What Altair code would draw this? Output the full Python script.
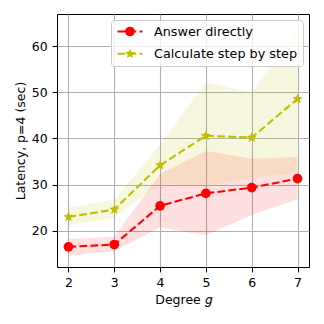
import math
import altair as alt
import pandas as pd

# ---- data ----
degree = [2, 3, 4, 5, 6, 7]
series_names = ["Answer directly", "Calculate step by step"]
series_colors = ["#ff0000", "#bfbf00"]

direct_mean = [16.5, 17.0, 25.4, 28.1, 29.35, 31.3]
direct_low = [14.5, 15.6, 20.7, 19.0, 23.4, 26.8]
direct_high = [18.2, 18.7, 32.3, 37.3, 35.6, 36.0]

step_mean = [23.0, 24.6, 34.2, 40.6, 40.2, 48.6]
step_low = [21.2, 22.8, 30.2, 29.6, 31.5, 32.5]
step_high = [25.1, 26.7, 38.7, 52.2, 49.9, 64.0]

x_ticks = [2, 3, 4, 5, 6, 7]
y_ticks = [20, 30, 40, 50, 60]

rows = []
for name, m, lo, hi in [
    (series_names[0], direct_mean, direct_low, direct_high),
    (series_names[1], step_mean, step_low, step_high),
]:
    for g, a, b, c in zip(degree, m, lo, hi):
        rows.append({"series": name, "degree": g, "mean": a, "low": b, "high": c})
df = pd.DataFrame(rows)


# ---- marker geometry (unit symbol paths) ----
def star_path(r_out, r_in, dx=0.0):
    pts = []
    for k in range(10):
        r = r_out if k % 2 == 0 else r_in
        ang = -math.pi / 2 + k * math.pi / 5
        pts.append((dx + r * math.cos(ang), r * math.sin(ang)))
    return "M" + " L".join(f"{x:.3f},{y:.3f}" for x, y in pts) + " Z"


def circle_path(r):
    return (f"M{-r:.3f},0 A{r:.3f},{r:.3f} 0 1,0 {r:.3f},0 "
            f"A{r:.3f},{r:.3f} 0 1,0 {-r:.3f},0 Z")


dashes = "M-2.5,0 L-0.96,0 M-0.3,0 L1.24,0 M1.9,0 L2.5,0 "
legend_direct = dashes + circle_path(0.764)
legend_step = dashes + star_path(0.5, 0.24)

x_scale = alt.Scale(domain=[1.75, 7.25], nice=False, zero=False)
y_scale = alt.Scale(domain=[12.13, 67.0], nice=False, zero=False)
# data-derived domain (alphabetical == series order)
color_scale = alt.Scale(range=series_colors)

x_enc = alt.X("degree:Q", scale=x_scale,
              axis=alt.Axis(values=x_ticks, title="Degree 𝑔", format="d", labelAngle=0))
y_axis = alt.Axis(values=y_ticks, title="Latency, p=4 (sec)", format="d")
y_mean = alt.Y("mean:Q", scale=y_scale, axis=y_axis)

base = alt.Chart(df)

bands = base.mark_area(opacity=0.12).encode(
    x=x_enc,
    y=alt.Y("low:Q", scale=y_scale, axis=y_axis),
    y2="high:Q",
    color=alt.Color("series:N", scale=color_scale, legend=None),
)

lines = base.mark_line(strokeWidth=2.08, strokeDash=[7.7, 3.3]).encode(
    x=x_enc,
    y=y_mean,
    color=alt.Color("series:N", scale=color_scale, legend=None),
)

pts_direct = base.transform_filter(alt.datum.series == series_names[0]).mark_point(
    filled=True, opacity=1, size=94, strokeWidth=0, shape="circle", color=series_colors[0]
).encode(x=x_enc, y=y_mean)

pts_step = base.transform_filter(alt.datum.series == series_names[1]).mark_point(
    filled=True, opacity=1, size=94, strokeWidth=0, shape=star_path(1.1, 0.5),
    color=series_colors[1]
).encode(x=x_enc, y=y_mean)

legend = alt.Legend(
    title=None,
    orient="top-right",
    offset=6,
    padding=5,
    symbolSize=100,
    symbolOffset=7.5,
    labelOffset=17.5,
    rowPadding=6.3,
    symbolStrokeWidth=2.08,
    symbolOpacity=1,
    fillColor="rgba(255,255,255,0.8)",
    strokeColor="#cccccc",
    cornerRadius=3,
    labelFont="DejaVu Sans",
    labelFontSize=12.8,
    labelColor="black",
)

legend_layer = base.mark_point(
    filled=True, strokeWidth=2.08, opacity=0
).encode(
    x=x_enc,
    y=y_mean,
    fill=alt.Fill("series:N", scale=alt.Scale(domain=series_names, range=series_colors),
                  legend=legend),
    stroke=alt.Stroke("series:N", scale=alt.Scale(domain=series_names, range=series_colors),
                      legend=legend),
    shape=alt.Shape("series:N",
                    scale=alt.Scale(domain=series_names, range=[legend_direct, legend_step]),
                    legend=legend),
)

chart = alt.layer(bands, lines, pts_direct, pts_step, legend_layer).properties(
    width=252,
    height=253,
    background="white",
    autosize=alt.AutoSizeParams(type="none"),
    padding={"left": 49, "top": 6, "right": 7, "bottom": 49},
).configure_view(
    stroke="black", strokeWidth=1
).configure_axis(
    domain=False,
    grid=True,
    gridColor="#b0b0b0",
    gridWidth=1.1,
    tickColor="black",
    tickSize=4.9,
    tickWidth=1,
    labelPadding=4.9,
    labelFont="DejaVu Sans",
    labelFontSize=12.5,
    labelColor="black",
    titleFont="DejaVu Sans",
    titleFontSize=12.5,
    titleFontWeight="normal",
    titleColor="black",
    titlePadding=4,
)

chart.save("out.html", embed_options={"renderer": "svg", "actions": False})
